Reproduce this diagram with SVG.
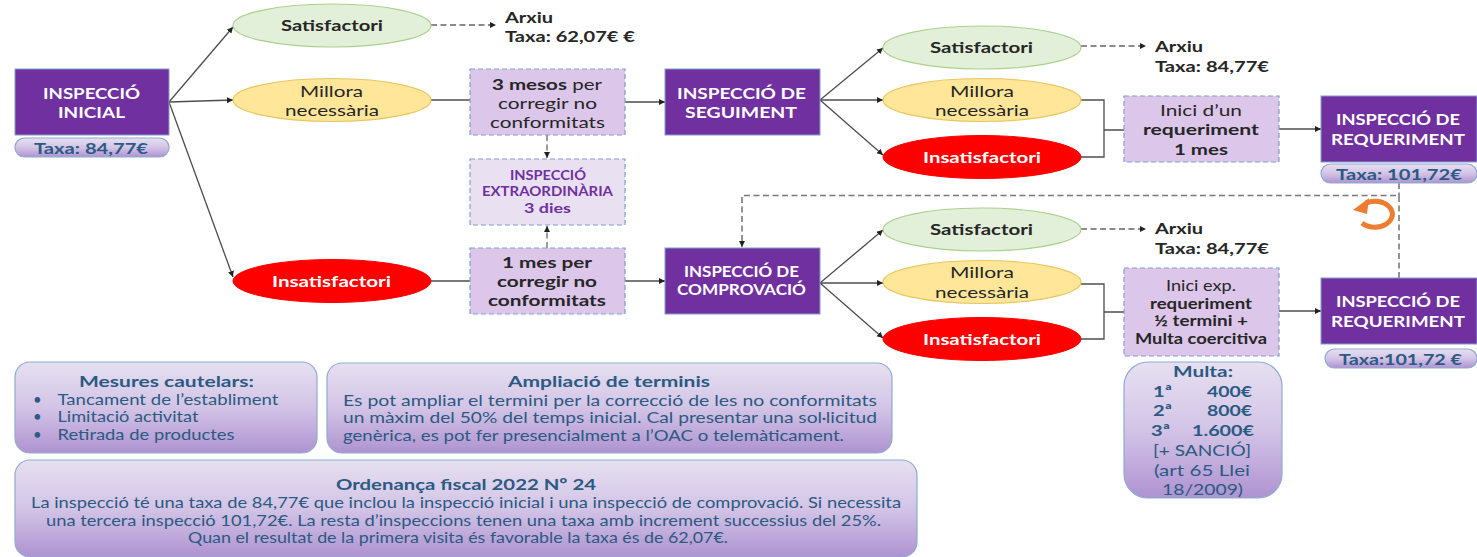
<svg xmlns="http://www.w3.org/2000/svg" width="1477" height="557" viewBox="0 0 1477 557">
<style>
text{font-family:Lato,"Open Sans","Liberation Sans",sans-serif;font-size:16px;fill:#262626}
.w{fill:#fff;font-weight:700}
.b{font-weight:700}
.p{fill:#2b5a82}
.pb{fill:#2b5a82;font-weight:700}
.s{font-size:14.500px}
.t{font-size:16px}
.n{font-size:15px}
.v{fill:#7030a0;font-weight:700;font-size:14px}
.head{fill:#7030a0;stroke:#7f9fcb;stroke-width:1}
.sat{fill:#e2f0d9;stroke:#a9d18e;stroke-width:1.2}
.mil{fill:#ffe699;stroke:#e8c660;stroke-width:1.2}
.ins{fill:#f00;stroke:#f00}
.box{fill:#dcc6ea;stroke:#7f9fcb;stroke-width:1.2;stroke-dasharray:5 3}
.ext{fill:#e9e1f2;stroke:#7f9fcb;stroke-width:1.2;stroke-dasharray:5 3}
.pan{fill:url(#g);stroke:#8fabd0;stroke-width:1.2}
.c{fill:none;stroke:#4d4d4d;stroke-width:1.3}
.a{marker-end:url(#m)}
.d{stroke-dasharray:6 3.500;stroke:#666}
.l{stroke:#7a7a7a;stroke-width:1.600}
</style>
<defs>
<linearGradient id="g" x1="0" y1="0" x2="0" y2="1"><stop offset="0" stop-color="#e6e0f1"/><stop offset=".5" stop-color="#d3c4e6"/><stop offset="1" stop-color="#ae93d1"/></linearGradient>
<marker id="m" markerWidth="8" markerHeight="8" refX="6" refY="3" orient="auto" markerUnits="userSpaceOnUse"><path d="M0 0L6 3L0 6z" fill="#222"/></marker>
</defs>
<g id="connectors">
<path class="c a" d="M169 102L233 27"/><path class="c a" d="M169 102L233 100"/><path class="c a" d="M169 102L233 277"/>
<path class="c a d" d="M431 25H496"/>
<path class="c" d="M431 100H470"/><path class="c a" d="M625 102H665"/>
<path class="c a d" d="M547 135V158"/><path class="c a d" d="M547 248V226"/>
<path class="c" d="M431 281H470"/><path class="c a" d="M625 281H665"/>
<path class="c a" d="M820 100L883 48"/><path class="c a" d="M820 100H883"/><path class="c a" d="M820 100L883 155"/>
<path class="c a d" d="M1081 46H1146"/>
<path class="c" d="M1081 100H1104V157H1081M1104 130H1124"/><path class="c a" d="M1279 129H1321"/>
<path class="c a d l" d="M1399 278V195.500H742V247"/><path class="c d l" d="M1399 183V196"/>
<path class="c a" d="M820 283L883 230"/><path class="c a" d="M820 283H883"/><path class="c a" d="M820 283L883 338"/>
<path class="c a d" d="M1081 229H1146"/>
<path class="c" d="M1081 284H1104V339H1081M1104 312H1124"/><path class="c a" d="M1279 311H1321"/>
<path d="M1362 223A17.500 13 0 1 0 1366 203" fill="none" stroke="#ed7d31" stroke-width="5"/>
<path d="M1353 210L1369 198L1367 214z" fill="#ed7d31"/>
</g>
<g id="inicial"><rect class="head" x="15" y="69" width="154" height="66"/>
<text class="w" x="43" y="98.500" textLength="97" lengthAdjust="spacingAndGlyphs">INSPECCIÓ</text>
<text class="w" x="58" y="118" textLength="67" lengthAdjust="spacingAndGlyphs">INICIAL</text></g>
<g id="taxa-inicial"><rect class="pan" x="15" y="138" width="154" height="19" rx="9.500"/>
<text class="pb" x="34" y="154" textLength="114" lengthAdjust="spacingAndGlyphs">Taxa: 84,77€</text></g>
<g id="sat1"><ellipse class="sat" cx="332" cy="25.500" rx="99" ry="21.500"/>
<text class="b" x="281" y="31" textLength="102" lengthAdjust="spacingAndGlyphs">Satisfactori</text></g>
<g id="mil1"><ellipse class="mil" cx="332" cy="100" rx="99" ry="21.500"/>
<text x="300" y="96.500" textLength="63" lengthAdjust="spacingAndGlyphs">Millora</text>
<text x="285" y="116" textLength="94" lengthAdjust="spacingAndGlyphs">necessària</text></g>
<g id="ins1"><ellipse class="ins" cx="332" cy="281" rx="99" ry="21.500"/>
<text class="w" x="272" y="286.500" textLength="119" lengthAdjust="spacingAndGlyphs">Insatisfactori</text></g>
<g id="arxiu1"><text class="b" x="505" y="22.500" textLength="48" lengthAdjust="spacingAndGlyphs">Arxiu</text>
<text class="b" x="505" y="42" textLength="130" lengthAdjust="spacingAndGlyphs">Taxa: 62,07€ €</text></g>
<g id="mesos3"><rect class="box" x="470" y="69" width="155" height="66"/>
<text x="492" y="89.500" textLength="110" lengthAdjust="spacingAndGlyphs"><tspan class="b">3 mesos</tspan> per</text>
<text x="498" y="109" textLength="99" lengthAdjust="spacingAndGlyphs">corregir no</text>
<text x="490" y="128" textLength="115" lengthAdjust="spacingAndGlyphs">conformitats</text></g>
<g id="extra"><rect class="ext" x="470" y="159" width="155" height="66"/>
<text class="v" x="510" y="180" textLength="76" lengthAdjust="spacingAndGlyphs">INSPECCIÓ</text>
<text class="v" x="482" y="196" textLength="131" lengthAdjust="spacingAndGlyphs">EXTRAORDINÀRIA</text>
<text class="v" x="524" y="212.500" textLength="47" lengthAdjust="spacingAndGlyphs">3 dies</text></g>
<g id="mes1"><rect class="box" x="470" y="248" width="155" height="66"/>
<text class="b" x="502" y="267.500" textLength="90" lengthAdjust="spacingAndGlyphs">1 mes per</text>
<text class="b" x="497" y="287" textLength="100" lengthAdjust="spacingAndGlyphs">corregir no</text>
<text class="b" x="488" y="306" textLength="118" lengthAdjust="spacingAndGlyphs">conformitats</text></g>
<g id="seguiment"><rect class="head" x="665" y="69" width="155" height="66"/>
<text class="w" x="677" y="98.500" textLength="129" lengthAdjust="spacingAndGlyphs">INSPECCIÓ DE</text>
<text class="w" x="685" y="118" textLength="112" lengthAdjust="spacingAndGlyphs">SEGUIMENT</text></g>
<g id="comprovacio"><rect class="head" x="665" y="248" width="155" height="66"/>
<text class="w n" x="684" y="276.500" textLength="115" lengthAdjust="spacingAndGlyphs">INSPECCIÓ DE</text>
<text class="w n" x="677" y="294.500" textLength="129" lengthAdjust="spacingAndGlyphs">COMPROVACIÓ</text></g>
<g id="sat2"><ellipse class="sat" cx="982" cy="47.500" rx="99" ry="21.500"/>
<text class="b" x="930" y="53" textLength="103" lengthAdjust="spacingAndGlyphs">Satisfactori</text></g>
<g id="mil2"><ellipse class="mil" cx="982" cy="100" rx="99" ry="21.500"/>
<text x="950" y="96.500" textLength="64" lengthAdjust="spacingAndGlyphs">Millora</text>
<text x="935" y="116" textLength="94" lengthAdjust="spacingAndGlyphs">necessària</text></g>
<g id="ins2"><ellipse class="ins" cx="982" cy="157" rx="99" ry="21.500"/>
<text class="w" x="923" y="162.500" textLength="118" lengthAdjust="spacingAndGlyphs">Insatisfactori</text></g>
<g id="arxiu2"><text class="b" x="1155" y="52" textLength="48" lengthAdjust="spacingAndGlyphs">Arxiu</text>
<text class="b" x="1155" y="71.500" textLength="114" lengthAdjust="spacingAndGlyphs">Taxa: 84,77€</text></g>
<g id="inici1"><rect class="box" x="1124" y="96" width="155" height="66"/>
<text x="1160" y="115.500" textLength="82" lengthAdjust="spacingAndGlyphs">Inici d’un</text>
<text class="b" x="1143" y="135" textLength="116" lengthAdjust="spacingAndGlyphs">requeriment</text>
<text class="b" x="1174" y="154.500" textLength="54" lengthAdjust="spacingAndGlyphs">1 mes</text></g>
<g id="req1"><rect class="head" x="1321" y="96" width="156" height="66"/>
<text class="w" x="1336" y="125" textLength="124" lengthAdjust="spacingAndGlyphs">INSPECCIÓ DE</text>
<text class="w" x="1331" y="145" textLength="134" lengthAdjust="spacingAndGlyphs">REQUERIMENT</text></g>
<g id="taxa-req1"><rect class="pan" x="1321" y="164" width="156" height="19" rx="9.500"/>
<text class="pb" x="1336" y="180" textLength="126" lengthAdjust="spacingAndGlyphs">Taxa: 101,72€</text></g>
<g id="sat3"><ellipse class="sat" cx="982" cy="229.500" rx="99" ry="21.500"/>
<text class="b" x="930" y="235" textLength="103" lengthAdjust="spacingAndGlyphs">Satisfactori</text></g>
<g id="mil3"><ellipse class="mil" cx="982" cy="282" rx="99" ry="21.500"/>
<text x="950" y="278" textLength="64" lengthAdjust="spacingAndGlyphs">Millora</text>
<text x="935" y="298" textLength="94" lengthAdjust="spacingAndGlyphs">necessària</text></g>
<g id="ins3"><ellipse class="ins" cx="982" cy="339" rx="99" ry="21.500"/>
<text class="w" x="923" y="345" textLength="118" lengthAdjust="spacingAndGlyphs">Insatisfactori</text></g>
<g id="arxiu3"><text class="b" x="1155" y="234" textLength="48" lengthAdjust="spacingAndGlyphs">Arxiu</text>
<text class="b" x="1155" y="253.500" textLength="114" lengthAdjust="spacingAndGlyphs">Taxa: 84,77€</text></g>
<g id="inici2"><rect class="box" x="1124" y="268" width="155" height="88"/>
<text class="s" x="1166" y="291" textLength="70" lengthAdjust="spacingAndGlyphs">Inici exp.</text>
<text class="s b" x="1150" y="309" textLength="102" lengthAdjust="spacingAndGlyphs">requeriment</text>
<text class="s b" x="1154" y="326" textLength="94" lengthAdjust="spacingAndGlyphs">½ termini +</text>
<text class="s b" x="1135" y="344" textLength="132" lengthAdjust="spacingAndGlyphs">Multa coercitiva</text></g>
<g id="req2"><rect class="head" x="1321" y="278" width="156" height="66"/>
<text class="w" x="1336" y="307" textLength="124" lengthAdjust="spacingAndGlyphs">INSPECCIÓ DE</text>
<text class="w" x="1331" y="326.500" textLength="134" lengthAdjust="spacingAndGlyphs">REQUERIMENT</text></g>
<g id="taxa-req2"><rect class="pan" x="1325" y="349" width="152" height="19" rx="9.500"/>
<text class="pb" x="1339" y="365" textLength="123" lengthAdjust="spacingAndGlyphs">Taxa:101,72 €</text></g>
<g id="multa"><rect class="pan" x="1124" y="362" width="158" height="136" rx="24"/>
<text class="pb" x="1173" y="376.500" textLength="60" lengthAdjust="spacingAndGlyphs">Multa:</text>
<text class="pb" x="1153" y="396.500" textLength="19" lengthAdjust="spacingAndGlyphs">1ª</text><text class="pb" x="1207" y="396.500" textLength="45" lengthAdjust="spacingAndGlyphs">400€</text>
<text class="pb" x="1153" y="416" textLength="19" lengthAdjust="spacingAndGlyphs">2ª</text><text class="pb" x="1207" y="416" textLength="45" lengthAdjust="spacingAndGlyphs">800€</text>
<text class="pb" x="1151" y="436" textLength="19" lengthAdjust="spacingAndGlyphs">3ª</text><text class="pb" x="1192" y="436" textLength="62" lengthAdjust="spacingAndGlyphs">1.600€</text>
<text class="p" x="1153" y="455.500" textLength="98" lengthAdjust="spacingAndGlyphs">[+ SANCIÓ]</text>
<text class="p" x="1154" y="475.500" textLength="96" lengthAdjust="spacingAndGlyphs">(art 65 Llei</text>
<text class="p" x="1162" y="495" textLength="81" lengthAdjust="spacingAndGlyphs">18/2009)</text></g>
<g id="mesures"><rect class="pan" x="15" y="362" width="302" height="91" rx="15"/>
<text class="pb t" x="79" y="387" textLength="175" lengthAdjust="spacingAndGlyphs">Mesures cautelars:</text>
<text class="p n" x="33" y="405">•</text><text class="p n" x="57.500" y="405" textLength="221" lengthAdjust="spacingAndGlyphs">Tancament de l’establiment</text>
<text class="p n" x="33" y="422">•</text><text class="p n" x="57.500" y="422" textLength="141" lengthAdjust="spacingAndGlyphs">Limitació activitat</text>
<text class="p n" x="33" y="440">•</text><text class="p n" x="57.500" y="440" textLength="177" lengthAdjust="spacingAndGlyphs">Retirada de productes</text></g>
<g id="ampliacio"><rect class="pan" x="327" y="363" width="565" height="90" rx="15"/>
<text class="pb t" x="508" y="387" textLength="202" lengthAdjust="spacingAndGlyphs">Ampliació de terminis</text>
<text class="p n" x="343" y="406" textLength="534" lengthAdjust="spacingAndGlyphs">Es pot ampliar el termini per la correcció de les no conformitats</text>
<text class="p n" x="343" y="423" textLength="534" lengthAdjust="spacingAndGlyphs">un màxim del 50% del temps inicial. Cal presentar una sol·licitud</text>
<text class="p n" x="343" y="441" textLength="501" lengthAdjust="spacingAndGlyphs">genèrica, es pot fer presencialment a l’OAC o telemàticament.</text></g>
<g id="ordenanca"><rect class="pan" x="15" y="460" width="902" height="97" rx="15"/>
<text class="pb t" x="336" y="490" textLength="260" lengthAdjust="spacingAndGlyphs">Ordenança fiscal 2022 Nº 24</text>
<text class="p n" x="31" y="508" textLength="870" lengthAdjust="spacingAndGlyphs">La inspecció té una taxa de 84,77€ que inclou la inspecció inicial i una inspecció de comprovació. Si necessita</text>
<text class="p n" x="46" y="526" textLength="835" lengthAdjust="spacingAndGlyphs">una tercera inspecció 101,72€. La resta d’inspeccions tenen una taxa amb increment successius del 25%.</text>
<text class="p n" x="188" y="543" textLength="540" lengthAdjust="spacingAndGlyphs">Quan el resultat de la primera visita és favorable la taxa és de 62,07€.</text></g>
</svg>
